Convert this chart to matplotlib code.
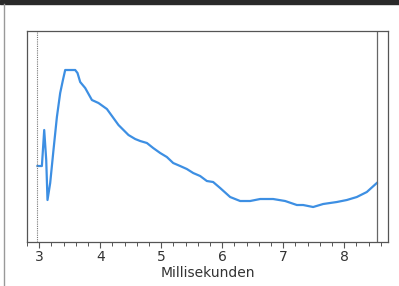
import matplotlib

matplotlib.use("Agg")
import matplotlib.pyplot as plt
from matplotlib.patches import Rectangle
from matplotlib.lines import Line2D
from matplotlib.ticker import MultipleLocator

# trace (x in ms, y in arbitrary units above the baseline)
ms = [2.972, 3.044, 3.082, 3.115, 3.136, 3.180, 3.234, 3.290, 3.344, 3.389,
      3.426, 3.590, 3.628, 3.672, 3.754, 3.864, 3.972, 4.110, 4.300, 4.464,
      4.574, 4.656, 4.766, 4.869, 4.984, 5.093, 5.197, 5.311, 5.421, 5.525,
      5.639, 5.749, 5.852, 5.967, 6.131, 6.295, 6.459, 6.623, 6.836, 7.033,
      7.225, 7.328, 7.492, 7.656, 7.880, 8.044, 8.208, 8.372, 8.536]
amp = [76, 76, 112, 82, 42, 59, 92, 125, 149, 162,
       172, 172, 169, 160, 154, 142, 139, 133, 117, 107,
       103, 101, 99, 94, 89, 85, 79, 76, 73, 69,
       66, 61, 60, 54, 45, 41, 41, 43, 43, 41,
       37, 37, 35, 38, 40, 42, 45, 50, 59]
ticks = [3, 4, 5, 6, 7, 8]
marker_start = 2.97
marker_end = 8.54

fig = plt.figure(figsize=(3.99, 2.86), dpi=100)
ax = fig.add_axes([0.0677, 0.1538, 0.9048, 0.7378])

ax.plot(ms, amp, color="#3d8fe3", linewidth=1.6, solid_joinstyle="round")
ax.axvline(marker_start, color="#777777", linewidth=0.8, linestyle=(0, (1, 1)))
ax.axvline(marker_end, color="#666666", linewidth=0.9)

ax.set_xlim(2.80, 8.72)
ax.set_ylim(0, 211)
ax.set_yticks([])
ax.set_xticks(ticks)
ax.xaxis.set_minor_locator(MultipleLocator(0.2))
ax.tick_params(axis="x", which="major", length=4, width=0.8, color="#555555",
               labelsize=10, labelcolor="#333333", pad=2)
ax.tick_params(axis="x", which="minor", length=3, width=0.7, color="#555555")
for s in ax.spines.values():
    s.set_color("#555555")
    s.set_linewidth(0.9)
ax.set_xlabel("Millisekunden", fontsize=10, color="#333333", labelpad=1)

# scan border: dark band at top and a grey edge on the left
fig.patches.append(Rectangle((0, 0.985), 1, 0.015, transform=fig.transFigure,
                             color="#2a2a2a", zorder=0))
fig.lines.append(Line2D([0.0088, 0.0088], [0, 0.985], transform=fig.transFigure,
                        color="#999999", linewidth=1))

fig.savefig("out.png", dpi=100)
